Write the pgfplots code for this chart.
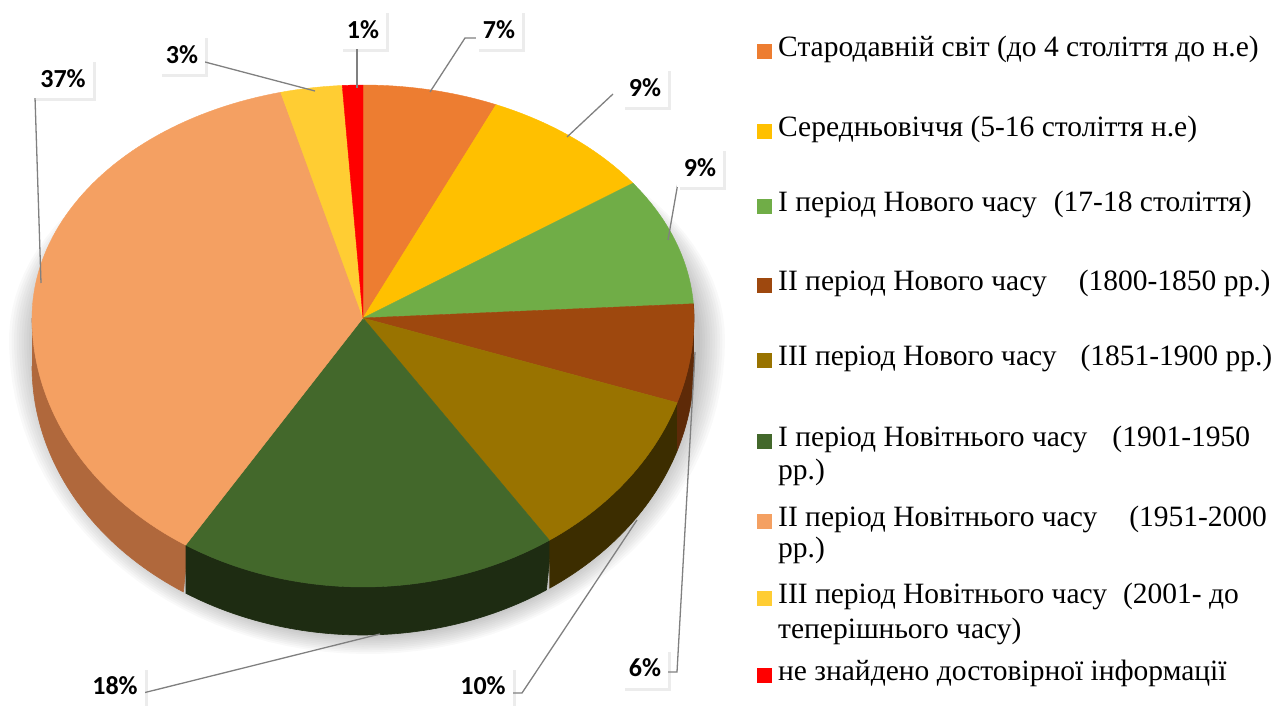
\documentclass[border=0pt]{standalone}
\usepackage{fontspec}
\setmainfont{Liberation Serif}
\newfontfamily\labfont{Carlito}
\usepackage{pgfplots}
\pgfplotsset{compat=1.18}
\usetikzlibrary{shadows}

\definecolor{cA}{HTML}{ED7D31}
\definecolor{cB}{HTML}{FFC000}
\definecolor{cC}{HTML}{70AD47}
\definecolor{cD}{HTML}{9E480E}
\definecolor{cE}{HTML}{997300}
\definecolor{cF}{HTML}{43682B}
\definecolor{cG}{HTML}{F4A062}
\definecolor{cH}{HTML}{FFCD33}
\definecolor{cI}{HTML}{FF0000}
\definecolor{sD}{HTML}{5E2A08}
\definecolor{sE}{HTML}{3C2D00}
\definecolor{sF}{HTML}{1E2C12}
\definecolor{sG}{HTML}{B0683C}
\definecolor{lead}{HTML}{808080}

% slice values (percent), clockwise from the top
\def\vA{7}\def\vB{9}\def\vC{9}\def\vD{6}\def\vE{10}\def\vF{18}\def\vG{37}\def\vH{3}\def\vI{1}
\pgfmathsetmacro\aA{90}
\pgfmathsetmacro\aB{\aA-3.6*\vA}
\pgfmathsetmacro\aC{\aB-3.6*\vB}
\pgfmathsetmacro\aD{\aC-3.6*\vC}
\pgfmathsetmacro\aE{\aD-3.6*\vD}
\pgfmathsetmacro\aF{\aE-3.6*\vE}
\pgfmathsetmacro\aG{\aF-3.6*\vF}
\pgfmathsetmacro\aH{\aG-3.6*\vG}
\pgfmathsetmacro\aI{\aH-3.6*\vH}
\pgfmathsetmacro\aJ{\aI-3.6*\vI}

\pgfplotsset{
  /pgf/declare function={
    wa(\q)=\q+3.5*max(cos(\q),0);
    ry(\q)=(sin(\q)>0)*233+(sin(\q)<=0)*269;
    px(\q)=363+331*cos(wa(\q));
    py(\q)=318-sin(wa(\q))*ry(wa(\q));
    tt(\p,\m,\n)=(\p<=1)*(\m+\p*(\n-\m))+(\p>1)*(\n-(\p-1)*(\n-\m));
  }
}

\newcommand\slice[3]{\addplot[fill=#1,draw=#1,line width=0.4pt,domain=#3:#2,samples=90,variable=\t]
  ({px(\t)},{py(\t)}) -- (axis cs:363,318) -- cycle;}
\newcommand\side[3]{\addplot[fill=#1,draw=#1,line width=0.6pt,domain=0:2,samples=121,variable=\t]
  ({px(tt(\t,#2,#3))},{py(tt(\t,#2,#3))+(\t>1)*48});}

\tikzset{lbl/.style={fill=white,inner xsep=7pt,inner ysep=10pt,text height=18pt,text depth=1pt,
  font=\labfont\bfseries\fontsize{26}{31}\selectfont,
  drop shadow={shadow xshift=3pt,shadow yshift=-3pt,opacity=0.15}},
  leg/.style={anchor=west,inner sep=0pt,font=\fontsize{29.5}{35}\selectfont},
  ld/.style={draw=lead,line width=1.3pt}}

\begin{document}
\begin{tikzpicture}
\begin{axis}[width=1275pt,height=706pt,scale only axis,hide axis,
  xmin=0,xmax=1275,ymin=0,ymax=706,y dir=reverse,clip=false]
\coordinate (LL) at (axis cs:0,706);
\coordinate (UR) at (axis cs:1275,0);
% soft shadow
\pgfplotsinvokeforeach{0,...,10}{
  \addplot[fill=black,fill opacity=0.025,draw=none,domain=0:360,samples=120,variable=\t]
  ({367+(333+2.5*#1)*cos(\t)},{340-sin(\t)*((sin(\t)>0)*(222+#1)+(sin(\t)<=0)*(296+1.8*#1))});
}
% side walls
\side{sG}{-180}{\aG+0.5}
\side{sF}{\aG}{\aF+0.5}
\side{sE}{\aF}{\aE+0.5}
\side{sD}{\aE}{0}
% top faces
\slice{cA}{\aA}{\aB}
\slice{cB}{\aB}{\aC}
\slice{cC}{\aC}{\aD}
\slice{cD}{\aD}{\aE}
\slice{cE}{\aE}{\aF}
\slice{cF}{\aF}{\aG}
\slice{cG}{\aG}{\aH}
\slice{cH}{\aH}{\aI}
\slice{cI}{\aI}{\aJ}
% leader lines
\draw[ld] (35,97) -- (41,283);
\draw[ld] (205,62) -- (315,91);
\draw[ld] (357,46) -- (357,88);
\draw[ld] (476,38) -- (465,38) -- (430,92);
\draw[ld] (613,94) -- (567,137);
\draw[ld] (679,177) -- (668,240);
\draw[ld] (663,672) -- (677,672) -- (695,352);
\draw[ld] (508,693) -- (522,693) -- (637,520);
\draw[ld] (143,693) -- (380,634);
% labels
\node[lbl] at (363,30) {1\%};
\node[lbl] at (499,30) {7\%};
\node[lbl] at (182,55) {3\%};
\node[lbl] at (63,79) {37\%};
\node[lbl] at (645,88) {9\%};
\node[lbl] at (700,168) {9\%};
\node[lbl] at (645,668) {6\%};
\node[lbl] at (483,686) {10\%};
\node[lbl] at (115,686) {18\%};
% legend
\fill[cA] (757,44) rectangle (772,59);
\node[leg] at (778,49) {Стародавній світ (до 4 століття до н.е)};
\fill[cB] (757,124) rectangle (772,139);
\node[leg] at (778,129) {Середньовіччя (5-16 століття н.е)};
\fill[cC] (757,199) rectangle (772,214);
\node[leg] at (778,204) {I період Нового часу\hspace{17pt}(17-18 століття)};
\fill[cD] (757,278) rectangle (772,293);
\node[leg] at (778,283) {II період Нового часу\hspace{32pt}(1800-1850 рр.)};
\fill[cE] (757,353) rectangle (772,368);
\node[leg] at (778,358) {III період Нового часу\hspace{24pt}(1851-1900 рр.)};
\fill[cF] (757,434) rectangle (772,449);
\node[leg] at (778,439) {I період Новітнього часу\hspace{25pt}(1901-1950};
\node[leg] at (778,472) {рр.)};
\fill[cG] (757,514) rectangle (772,529);
\node[leg] at (778,519) {II період Новітнього часу\hspace{32pt}(1951-2000};
\node[leg] at (778,550) {рр.)};
\fill[cH] (757,591) rectangle (772,606);
\node[leg] at (778,596) {III період Новітнього часу\hspace{16pt}(2001- до};
\node[leg] at (778,631) {теперішнього часу)};
\fill[cI] (757,668) rectangle (772,683);
\node[leg] at (778,673) {не знайдено достовірної інформації};
\end{axis}
\pgfresetboundingbox
\path (LL) rectangle (UR);
\end{tikzpicture}
\end{document}
